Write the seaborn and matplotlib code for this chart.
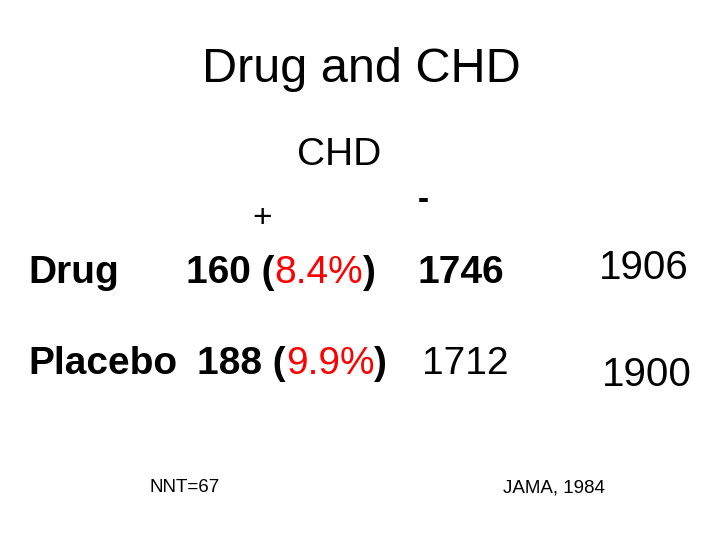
import matplotlib
matplotlib.use("Agg")
import matplotlib.pyplot as plt
import seaborn as sns

sns.set_theme(style="white")
plt.rcParams['font.family'] = ['Liberation Sans', 'DejaVu Sans']
plt.rcParams['text.color'] = 'black'

title = "Drug and CHD"
col_header = "CHD"
col_labels = ["+", "-"]
row_labels = ["Drug", "Placebo"]
events = [160, 188]
event_pct = ["8.4%", "9.9%"]
non_events = [1746, 1712]
totals = [1906, 1900]
notes = ["NNT=67", "JAMA, 1984"]

fig = plt.figure(figsize=(7.2, 5.4), dpi=100)
ax = fig.add_axes([0, 0, 1, 1])
ax.set_xlim(0, 720); ax.set_ylim(540, 0); ax.axis("off")

ax.text(361, 70, title, fontsize=35, ha="center", va="center", color="black")
ax.text(339, 155, col_header, fontsize=28, ha="center", va="center", color="black")
ax.text(262, 218, col_labels[0], fontsize=24, ha="center", va="center", color="black")
ax.text(423, 200, col_labels[1], fontsize=24, ha="center", va="center", fontweight="bold", color="black")

row_y = [273, 364]
start_x = [186, 197]
non_x = [418, 422]
bold_non = [True, False]
tot_pos = [(644, 268), (647, 375)]
for i in range(2):
    ax.text(28, row_y[i], row_labels[i], fontsize=28, fontweight="bold", va="center", color="black")
    t = ax.text(start_x[i], row_y[i], f"{events[i]} (", fontsize=28, fontweight="bold", va="center", color="black")
    t = ax.annotate(event_pct[i], xy=(1, 0), xycoords=t, va="bottom", fontsize=28, color="red")
    t = ax.annotate(")", xy=(1, 0), xycoords=t, va="bottom", fontsize=28, fontweight="bold", color="black")
    ax.text(non_x[i], row_y[i], str(non_events[i]), fontsize=28,
            fontweight="bold" if bold_non[i] else "normal", va="center", color="black")
    ax.text(tot_pos[i][0], tot_pos[i][1], str(totals[i]), fontsize=29, ha="center", va="center", color="black")

ax.text(185, 488, notes[0], fontsize=13.5, ha="center", va="center", color="black")
ax.text(554, 488, notes[1], fontsize=13.5, ha="center", va="center", color="black")

fig.savefig("out.png", dpi=100)
